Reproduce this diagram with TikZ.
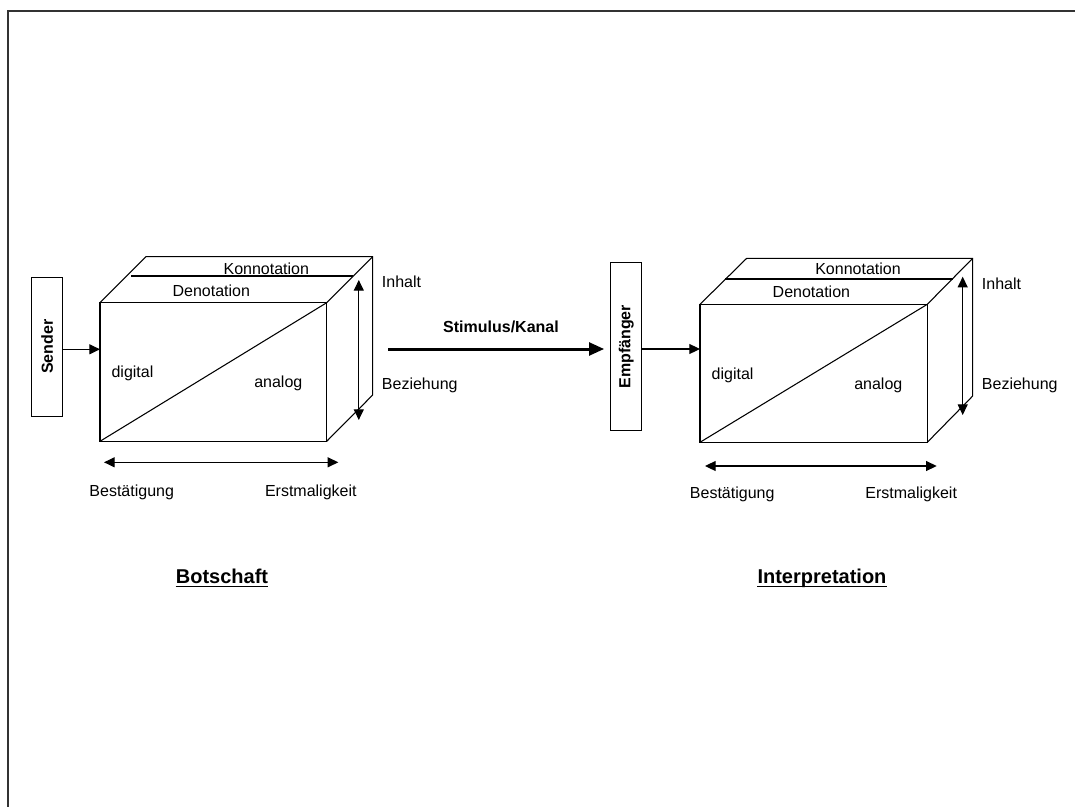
\documentclass[tikz,border=0pt]{standalone}
\usepackage{fontspec}
\setmainfont{Liberation Sans}
\usetikzlibrary{arrows.meta}
\begin{document}
\begin{tikzpicture}[x=0.75pt,y=-0.75pt,
  every node/.style={font=\fontsize{12}{14}\selectfont, inner sep=0pt},
  edge/.style={draw=black, line width=0.8pt, line join=miter},
  tip/.style={-{Triangle[length=8pt,width=7.5pt]}},
  dtip/.style={{Triangle[length=8pt,width=7.5pt]}-{Triangle[length=8pt,width=7.5pt]}},
  bigtip/.style={-{Triangle[length=11.25pt,width=9.5pt]}, line width=2.25pt},
  vbox/.style={draw=black, line width=0.8pt, minimum width=23.25pt, minimum height=#1},
  vlabel/.style={rotate=90, font=\fontsize{12}{14}\selectfont\bfseries},
  lbl/.style={anchor=center},
  side/.style={anchor=west},
  title/.style={font=\fontsize{15}{18}\selectfont\bfseries, anchor=base},
  frame/.style={draw=black!80, line width=1.5pt}]
\useasboundingbox (0,0) rectangle (1075,807);

% page frame (top and left edges)
\draw[frame] (8,807) -- (8,10.5) -- (1075,10.5);

% ---------------- left block: Botschaft ----------------
\coordinate (lfbl) at (100,441.3);
\coordinate (lfbr) at (326.7,441.3);
\coordinate (lftr) at (326.7,302.7);
\coordinate (lftl) at (100,302.7);
\coordinate (lbtl) at (146,256.7);
\coordinate (lbtr) at (372.7,256.7);
\coordinate (lbbr) at (372.7,395);
\draw[edge] (lftl) rectangle (lfbr);
\draw[edge] (lftl) -- (lbtl) -- (lbtr) -- (lbbr) -- (lfbr);
\draw[edge] (lftr) -- (lbtr);
\draw[edge] (131,276) -- (353.3,276);
\draw[edge] (lfbl) -- (lftr);

\node[lbl] (lkon) at (266.3,268.3) {Konnotation};
\node[lbl] (lden) at (211.3,290.7) {Denotation};
\node[lbl] (ldig) at (132.5,373.3) {digital};
\node[lbl] (lana) at (278.3,383.3) {analog};

\node[vbox=104.25pt] (snd) at (47.2,346.7) {};
\node[vlabel] (sndt) at (snd.center) {Sender};
\coordinate (lin) at (100,349.3);
\draw[edge,tip] (snd.east |- lin) -- (lin);

\coordinate (lvt) at (358.8,280);
\coordinate (lvb) at (358.8,420);
\draw[edge,dtip] (lvt) -- (lvb);
\node[side] (linh) at (381.7,281.7) {Inhalt};
\node[side] (lbez) at (381.7,385) {Beziehung};

\coordinate (lhl) at (104,462.3);
\coordinate (lhr) at (338.3,462.3);
\draw[edge,dtip] (lhl) -- (lhr);
\node[lbl] (lbes) at (131.7,492.7) {Bestätigung};
\node[lbl] (lers) at (310.8,492.7) {Erstmaligkeit};

\node[title] (bot) at (222,583) {Botschaft};
\draw[line width=1.2pt] ([yshift=-2.6pt]bot.base west) -- ([yshift=-2.6pt]bot.base east);

% ---------------- channel ----------------
\node[lbl, font=\fontsize{12}{14}\selectfont\bfseries] (stim) at (501,327.3) {Stimulus/Kanal};
\node[vbox=126pt] (emp) at (626.2,346.7) {};
\node[vlabel] (empt) at (emp.center) {Empfänger};
\coordinate (cst) at (388.3,349);
\draw[bigtip] (cst) -- ([xshift=-4.5pt]emp.west |- cst);

% ---------------- right block: Interpretation ----------------
\coordinate (rfbl) at (700,442.3);
\coordinate (rfbr) at (927.3,442.3);
\coordinate (rftr) at (927.3,304.3);
\coordinate (rftl) at (700,304.3);
\coordinate (rbtl) at (746.7,258.3);
\coordinate (rbtr) at (972.7,258.3);
\coordinate (rbbr) at (972.7,396);
\draw[edge] (rftl) rectangle (rfbr);
\draw[edge] (rftl) -- (rbtl) -- (rbtr) -- (rbbr) -- (rfbr);
\draw[edge] (rftr) -- (rbtr);
\draw[edge] (725.3,279) -- (952.6,279);
\draw[edge] (rfbl) -- (rftr);

\node[lbl] (rkon) at (858,268.3) {Konnotation};
\node[lbl] (rden) at (811.4,291.7) {Denotation};
\node[lbl] (rdig) at (732.6,375) {digital};
\node[lbl] (rana) at (878.3,385) {analog};

\coordinate (rin) at (700,349);
\draw[edge,tip] (emp.east |- rin) -- (rin);

\coordinate (rvt) at (962.7,276.7);
\coordinate (rvb) at (962.7,415);
\draw[edge,dtip] (rvt) -- (rvb);
\node[side] (rinh) at (981.7,283.3) {Inhalt};
\node[side] (rbez) at (981.7,385.7) {Beziehung};

\coordinate (rhl) at (705,466);
\coordinate (rhr) at (936.7,466);
\draw[edge,dtip] (rhl) -- (rhr);
\node[lbl] (rbes) at (732.2,494.3) {Bestätigung};
\node[lbl] (rers) at (911.2,494.3) {Erstmaligkeit};

\node[title] (int) at (822,583) {Interpretation};
\draw[line width=1.2pt] ([yshift=-2.6pt]int.base west) -- ([yshift=-2.6pt]int.base east);
\end{tikzpicture}
\end{document}
